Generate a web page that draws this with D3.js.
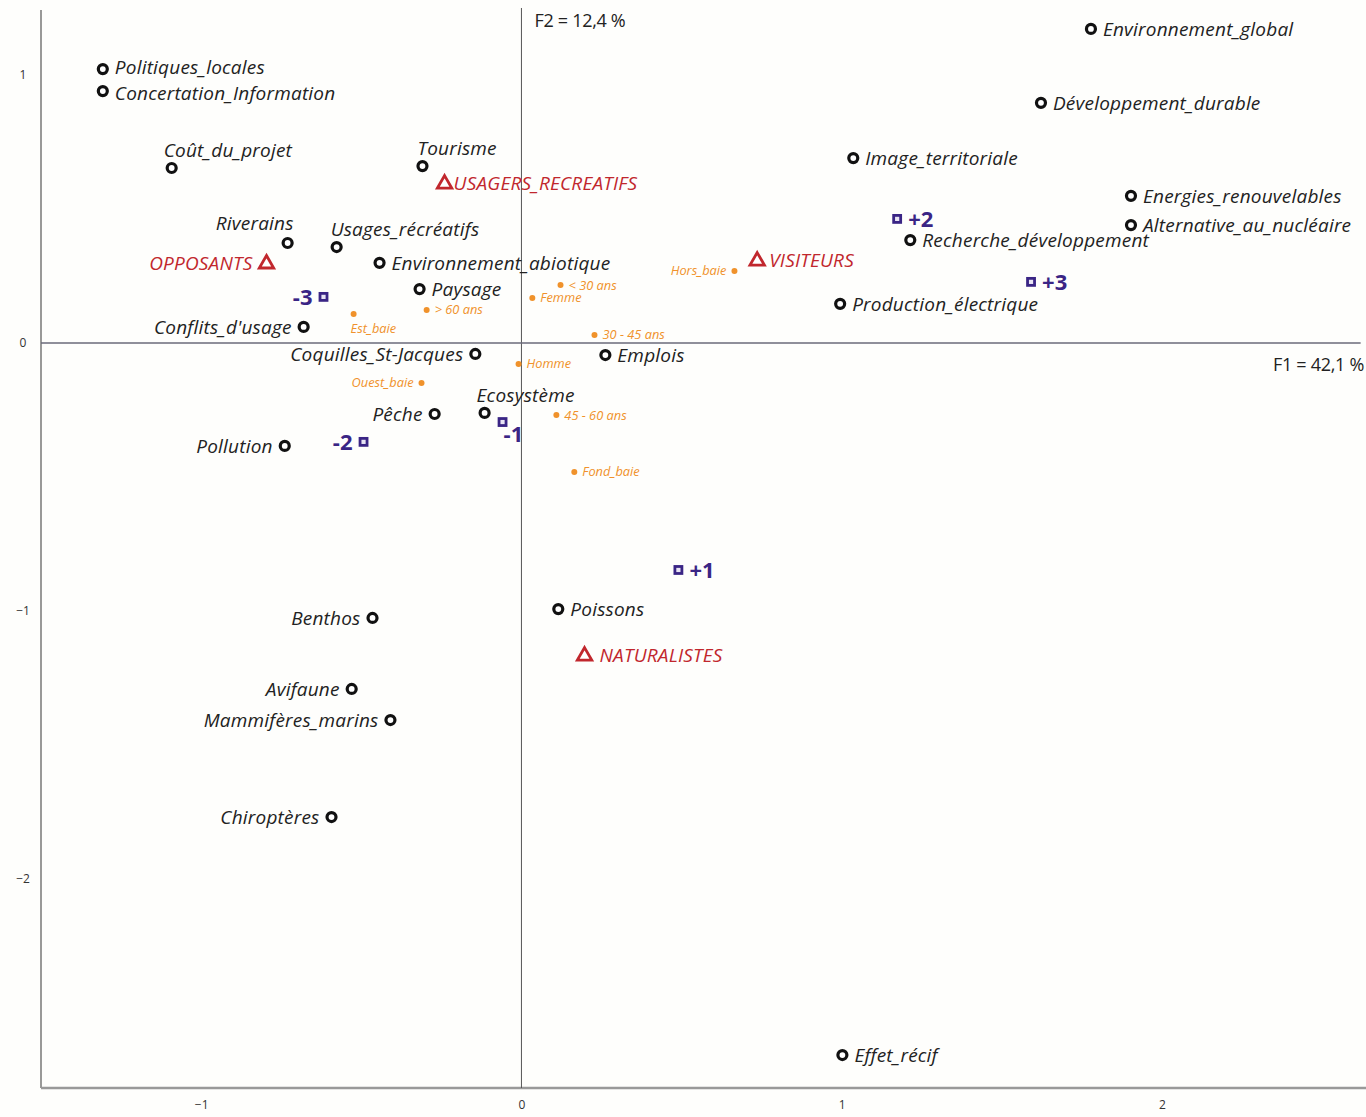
<!DOCTYPE html>
<html>
<head>
<meta charset="utf-8">
<script src="https://cdn.jsdelivr.net/npm/d3@7"></script>
<style>
  html, body { margin: 0; padding: 0; background: #fefefc; }
  svg { display: block; }
</style>
</head>
<body>
<svg id="chart" width="1366" height="1117"></svg>
<script>
// ---------- DATA ----------
// Variables (black open circles)
const variableNames = ["Environnement_global","Développement_durable","Image_territoriale","Energies_renouvelables","Alternative_au_nucléaire","Recherche_développement","Production_électrique","Politiques_locales","Concertation_Information","Coût_du_projet","Tourisme","Riverains","Usages_récréatifs","Environnement_abiotique","Paysage","Conflits_d'usage","Coquilles_St-Jacques","Emplois","Ecosystème","Pêche","Pollution","Poissons","Benthos","Avifaune","Mammifères_marins","Chiroptères","Effet_récif"];
const variableF1 = [1.778, 1.622, 1.036, 1.903, 1.903, 1.214, 0.995, -1.307, -1.307, -1.092, -0.309, -0.730, -0.577, -0.443, -0.318, -0.680, -0.144, 0.262, -0.115, -0.271, -0.739, 0.115, -0.465, -0.530, -0.409, -0.593, 1.002];
const variableF2 = [1.172, 0.896, 0.690, 0.549, 0.440, 0.384, 0.146, 1.022, 0.940, 0.653, 0.660, 0.373, 0.358, 0.299, 0.201, 0.060, -0.041, -0.045, -0.261, -0.265, -0.384, -0.993, -1.026, -1.291, -1.407, -1.769, -2.657];

// Groups (red triangles)
const groupNames = ["USAGERS_RECREATIFS", "OPPOSANTS", "VISITEURS", "NATURALISTES"];
const groupF1 = [-0.240, -0.796, 0.736, 0.197];
const groupF2 = [0.597, 0.299, 0.310, -1.164];

// Opinion scores (purple squares)
const scoreNames = ["+2", "+3", "-3", "-2", "-1", "+1"];
const scoreF1 = [1.173, 1.591, -0.618, -0.493, -0.059, 0.490];
const scoreF2 = [0.463, 0.228, 0.172, -0.369, -0.295, -0.847];

// Supplementary modalities (orange dots)
const suppNames = ["< 30 ans", "Femme", "> 60 ans", "Est_baie", "30 - 45 ans", "Hors_baie", "Homme", "Ouest_baie", "45 - 60 ans", "Fond_baie"];
const suppF1 = [0.122, 0.034, -0.296, -0.524, 0.228, 0.665, -0.009, -0.312, 0.109, 0.165];
const suppF2 = [0.216, 0.168, 0.123, 0.108, 0.030, 0.269, -0.078, -0.149, -0.269, -0.481];

// Axis ticks & titles
const xTicks = [-1, 0, 1, 2];
const yTicks = [1, 0, -1, -2];
const xAxisTitle = "F1 = 42,1 %";
const yAxisTitle = "F2 = 12,4 %";

// ---------- LABEL PLACEMENT (layout only) ----------
const leftLabels = new Set(["Conflits_d'usage","Coquilles_St-Jacques","Pêche","Pollution","Benthos","Avifaune","Mammifères_marins","Chiroptères","OPPOSANTS","-3","-2","Ouest_baie","Hors_baie"]);
const topLeftLabels = {"Coût_du_projet": [-8, -18], "Tourisme": [-5, -18], "Usages_récréatifs": [-6, -18], "Ecosystème": [-8, -18]};
const topRightEndLabels = {"Riverains": [6, -20]};
const belowLabels = {"Est_baie": [-3, 14], "-1": [1, 12]};
const vNudge = {"Politiques_locales": -2, "Concertation_Information": 2};

// ---------- CHART ----------
const svg = d3.select("#chart");
const W = 1366, H = 1117;
const x = d3.scaleLinear().domain([-1.5, 2.64]).range([41, 41 + 4.14 * 320.3]);
const y = d3.scaleLinear().domain([1.2425, -2.78]).range([10, 1088]);

svg.append("rect").attr("width", W).attr("height", H).attr("fill", "#fefefc");

// frame axes (left & bottom)
svg.append("line").attr("x1", x(-1.5)).attr("x2", x(-1.5)).attr("y1", y(1.2425)).attr("y2", y(-2.78))
  .attr("stroke", "#777").attr("stroke-width", 1.5);
svg.append("line").attr("x1", x(-1.5)).attr("x2", W).attr("y1", y(-2.78)).attr("y2", y(-2.78))
  .attr("stroke", "#999").attr("stroke-width", 2.5);

// zero lines
svg.append("line").attr("x1", x(0)).attr("x2", x(0)).attr("y1", y(1.25)).attr("y2", y(-2.78))
  .attr("stroke", "#555").attr("stroke-width", 1);
svg.append("line").attr("x1", x(-1.5)).attr("x2", x(2.62)).attr("y1", y(0)).attr("y2", y(0))
  .attr("stroke", "#6a6a7a").attr("stroke-width", 1.5);

// tick labels via d3 axes
const tickFont = "'Liberation Sans Narrow', 'Open Sans', sans-serif";
const yAxis = svg.append("g").attr("transform", `translate(${x(-1.5)},0)`)
  .call(d3.axisLeft(y).tickValues(yTicks).tickSize(0).tickPadding(16).tickFormat(d3.format("d")));
yAxis.select(".domain").remove();
yAxis.selectAll("text").attr("font-family", tickFont).attr("font-size", 12).attr("fill", "#333").attr("text-anchor", "middle").attr("dx", -2);

const xAxis = svg.append("g").attr("transform", `translate(0,${y(-2.78)})`)
  .call(d3.axisBottom(x).tickValues(xTicks).tickSize(0).tickPadding(12).tickFormat(d3.format("d")));
xAxis.select(".domain").remove();
xAxis.selectAll("text").attr("font-family", tickFont).attr("font-size", 12).attr("fill", "#333");

// axis titles
svg.append("text").attr("x", x(0) + 13).attr("y", 27).text(yAxisTitle)
  .attr("font-family", "'Open Sans', sans-serif").attr("font-size", 18).attr("fill", "#222").attr("letter-spacing", -0.3);
svg.append("text").attr("x", 1364).attr("y", y(0) + 28).attr("text-anchor", "end").text(xAxisTitle)
  .attr("font-family", "'Open Sans', sans-serif").attr("font-size", 18).attr("fill", "#222").attr("letter-spacing", -0.3);

const labelFont = "'Open Sans', sans-serif";

function placeLabel(sel, name, cx, cy, gap) {
  const nudge = vNudge[name] || 0;
  if (topLeftLabels[name]) {
    const o = topLeftLabels[name];
    sel.attr("x", cx + o[0]).attr("y", cy + o[1]).attr("dy", "0.35em").attr("text-anchor", "start");
  } else if (topRightEndLabels[name]) {
    const o = topRightEndLabels[name];
    sel.attr("x", cx + o[0]).attr("y", cy + o[1]).attr("dy", "0.35em").attr("text-anchor", "end");
  } else if (belowLabels[name]) {
    const o = belowLabels[name];
    sel.attr("x", cx + o[0]).attr("y", cy + o[1]).attr("dy", "0.35em").attr("text-anchor", "start");
  } else if (leftLabels.has(name)) {
    sel.attr("x", cx - gap).attr("y", cy + nudge).attr("dy", "0.35em").attr("text-anchor", "end");
  } else {
    sel.attr("x", cx + gap).attr("y", cy + nudge).attr("dy", "0.35em").attr("text-anchor", "start");
  }
}

// orange supplementary dots
const supp = suppNames.map((n, i) => ({ name: n, f1: suppF1[i], f2: suppF2[i] }));
const gs = svg.append("g");
supp.forEach(d => {
  const cx = x(d.f1), cy = y(d.f2);
  gs.append("circle").attr("cx", cx).attr("cy", cy).attr("r", 3).attr("fill", "#f0922b");
  const t = gs.append("text").text(d.name).attr("font-family", labelFont).attr("font-style", "italic")
    .attr("font-size", 12.8).attr("fill", "#f0922b");
  placeLabel(t, d.name, cx, cy, 8);
});

// variables (black rings)
const vars = variableNames.map((n, i) => ({ name: n, f1: variableF1[i], f2: variableF2[i] }));
const gv = svg.append("g");
vars.forEach(d => {
  const cx = x(d.f1), cy = y(d.f2);
  gv.append("circle").attr("cx", cx).attr("cy", cy).attr("r", 4.5)
    .attr("fill", "#fff").attr("stroke", "#111").attr("stroke-width", 3.2);
  const t = gv.append("text").text(d.name).attr("font-family", labelFont).attr("font-style", "italic")
    .attr("font-size", 19).attr("fill", "#222").attr("letter-spacing", 0.2);
  placeLabel(t, d.name, cx, cy, 12);
});

// groups (red triangles)
const groups = groupNames.map((n, i) => ({ name: n, f1: groupF1[i], f2: groupF2[i] }));
const gg = svg.append("g");
const tri = d3.symbol().type(d3.symbolTriangle).size(90);
const groupGap = {"USAGERS_RECREATIFS": 9, "OPPOSANTS": 14, "VISITEURS": 12, "NATURALISTES": 15};
groups.forEach(d => {
  const cx = x(d.f1), cy = y(d.f2);
  gg.append("path").attr("d", tri).attr("transform", `translate(${cx},${cy + 1})`)
    .attr("fill", "#fff").attr("stroke", "#c1272d").attr("stroke-width", 2.8).attr("stroke-linejoin", "miter");
  const t = gg.append("text").text(d.name).attr("font-family", labelFont).attr("font-style", "italic")
    .attr("font-size", 19).attr("fill", "#c1272d").attr("letter-spacing", 0.2);
  placeLabel(t, d.name, cx, cy, groupGap[d.name]);
});

// scores (purple squares)
const scores = scoreNames.map((n, i) => ({ name: n, f1: scoreF1[i], f2: scoreF2[i] }));
const gq = svg.append("g");
scores.forEach(d => {
  const cx = x(d.f1), cy = y(d.f2);
  gq.append("rect").attr("x", cx - 3.5).attr("y", cy - 3.5).attr("width", 7).attr("height", 7)
    .attr("fill", "#e8e4f4").attr("stroke", "#3a2585").attr("stroke-width", 2.8);
  const t = gq.append("text").text(d.name).attr("font-family", labelFont).attr("font-weight", "bold")
    .attr("font-size", 22).attr("fill", "#3a2585");
  placeLabel(t, d.name, cx, cy, 11);
});
</script>
</body>
</html>
